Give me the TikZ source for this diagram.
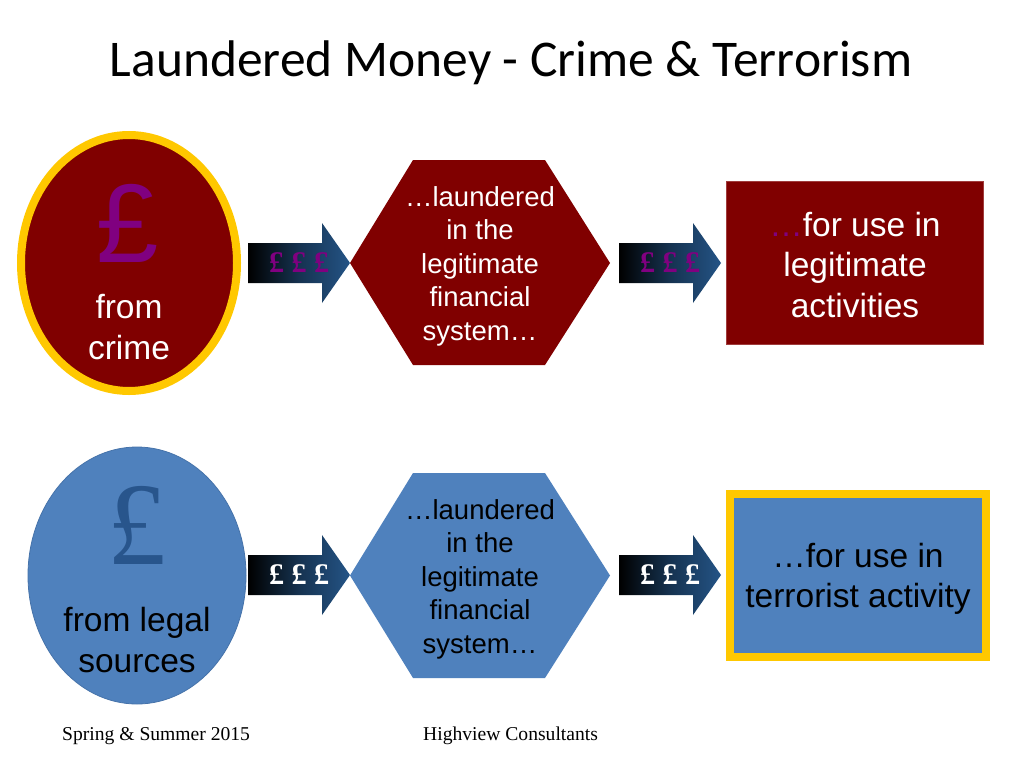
\documentclass[tikz,border=0pt]{standalone}
\usepackage{fontspec}
\setmainfont{Liberation Sans}
\newfontfamily\titlefont{Carlito}
\newfontfamily\timesfont{Liberation Serif}
\usetikzlibrary{shapes.geometric}
\definecolor{crimered}{RGB}{128,0,0}
\definecolor{crimeedge}{RGB}{160,60,60}
\definecolor{legalblue}{RGB}{79,129,189}
\definecolor{legaledge}{RGB}{70,115,170}
\definecolor{goldring}{RGB}{255,200,0}
\definecolor{poundpurple}{RGB}{128,0,128}
\definecolor{pounddark}{RGB}{40,85,140}
\definecolor{arrowblue}{RGB}{36,84,134}
\newcommand{\moneyarrow}[4]{%
  % #1 name, #2 left x, #3 centre y, #4 pound colour
  \shade[left color=black, right color=arrowblue, middle color=arrowblue!60!black]
    (#2,#3-20) -- (#2+74,#3-20) -- (#2+74,#3-40) -- (#2+102,#3)
    -- (#2+74,#3+40) -- (#2+74,#3+20) -- (#2,#3+20) -- cycle;
  \node[arrowtxt, text=#4] (#1) at (#2+51,#3) {£ £ £};
}
\tikzset{
  arrowtxt/.style={font=\timesfont\bfseries\fontsize{30}{30}\selectfont, inner sep=0pt},
  hextxt/.style={align=center, inner sep=0pt, font=\fontsize{27.5}{33.5}\selectfont},
  bigtxt/.style={align=center, inner sep=0pt, font=\fontsize{33.5}{40.5}\selectfont},
}
\begin{document}
\begin{tikzpicture}[x=1pt,y=-1pt]
\useasboundingbox (0,0) rectangle (1024,768);
\fill[white] (0,0) rectangle (1024,768);

% title
\node[font=\titlefont\fontsize{51.5}{51.5}\selectfont, anchor=base] (title) at (511,77) {Laundered Money - Crime \& Terrorism};

% ---------- top row ----------
\node[ellipse, draw=goldring, line width=8pt, fill=crimered, minimum width=216pt, minimum height=256pt, inner sep=0pt] (crime) at (129,263) {};
\node[text=poundpurple, font=\fontsize{112}{112}\selectfont, inner sep=0pt] (crimepound) at (128,223) {£};
\node[bigtxt, text=white] (crimetxt) at (129,327) {from\\crime};

\moneyarrow{a1}{248}{263}{poundpurple}

\fill[crimered] (413,160) -- (545,160) -- (610,263) -- (545,365) -- (413,365) -- (350,263) -- cycle;
\node[hextxt, text=white] (hex1) at (480,266) {…laundered\\in the\\legitimate\\financial\\system…};

\moneyarrow{a2}{619}{263}{poundpurple}

\node[draw=crimeedge, line width=0.8pt, fill=crimered, minimum width=257pt, minimum height=163pt, inner sep=0pt] (legit) at (854.5,262.5) {};
\node[bigtxt, text=white] (legittxt) at (855,265) {\textcolor{poundpurple}{…}for use in\\legitimate\\activities};

% ---------- bottom row ----------
\node[ellipse, draw=legaledge, line width=0.8pt, fill=legalblue, minimum width=218pt, minimum height=257pt, inner sep=0pt] (legal) at (137,575.5) {};
\node[text=pounddark, font=\timesfont\fontsize{118}{118}\selectfont, inner sep=0pt] (legalpound) at (137,525) {£};
\node[bigtxt, text=black] (legaltxt) at (137,640) {from legal\\sources};

\moneyarrow{a3}{248}{575}{white}

\fill[legalblue] (413,473) -- (545,473) -- (610,575.5) -- (545,678) -- (413,678) -- (350,575.5) -- cycle;
\node[hextxt, text=black] (hex2) at (480,579) {…laundered\\in the\\legitimate\\financial\\system…};

\moneyarrow{a4}{619}{575}{white}

\node[draw=goldring, line width=8pt, fill=legalblue, minimum width=256pt, minimum height=163pt, inner sep=0pt] (terror) at (858,575.5) {};
\node[bigtxt, text=black] (terrortxt) at (858,579) {…for use in\\terrorist activity};

% footer
\node[font=\timesfont\fontsize{19.6}{19.6}\selectfont, anchor=base west, inner sep=0pt] (foot1) at (62,740) {Spring \& Summer 2015};
\node[font=\timesfont\fontsize{19.6}{19.6}\selectfont, anchor=base west, inner sep=0pt] (foot2) at (423,740) {Highview Consultants};
\end{tikzpicture}
\end{document}
